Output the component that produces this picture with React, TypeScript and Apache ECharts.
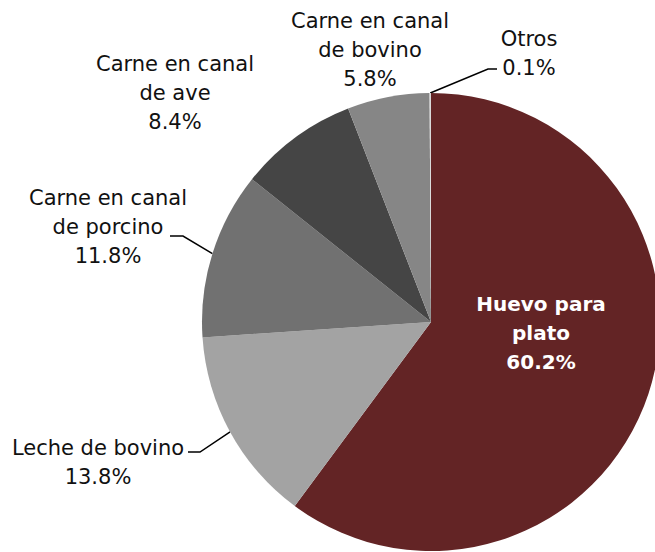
import React, { useEffect, useRef } from "react";
import * as echarts from "echarts";

const categories = [
  "Huevo para\nplato",
  "Leche de bovino",
  "Carne en canal\nde porcino",
  "Carne en canal\nde ave",
  "Carne en canal\nde bovino",
  "Otros",
];
const values = [60.2, 13.8, 11.8, 8.4, 5.8, 0.1];
const colors = ["#632425", "#a3a3a3", "#717171", "#454545", "#868686", "#d9d9d9"];

// label placement (center x, center y) and optional leader elbow/end points
const labelPos: Array<{ x: number; y: number; line?: number[][] }> = [
  { x: 541, y: 333 },
  { x: 98, y: 462, line: [[200, 452], [188, 452]] },
  { x: 108, y: 227, line: [[183, 236], [170, 236]] },
  { x: 175, y: 93 },
  { x: 370, y: 50 },
  { x: 529, y: 53, line: [[488, 69], [497, 69]] },
];

export default function App() {
  const ref = useRef<HTMLDivElement>(null);
  useEffect(() => {
    if (!ref.current) return;
    const chart = echarts.init(ref.current, undefined, { renderer: "svg" });
    const font = "DejaVu Sans";
    chart.setOption({
      animation: false,
      backgroundColor: "#ffffff",
      series: [
        {
          type: "pie",
          center: [431, 322],
          radius: 229,
          startAngle: 90,
          clockwise: true,
          avoidLabelOverlap: false,
          itemStyle: { borderWidth: 0 },
          label: {
            show: true,
            position: "outside",
            formatter: (p: any) => `${p.name}\n${values[p.dataIndex].toFixed(1)}%`,
            fontFamily: font,
            fontSize: 21,
            lineHeight: 29,
            color: "#111111",
            align: "center",
          },
          labelLine: {
            show: true,
            lineStyle: { color: "#000000", width: 1.5 },
            length: 10,
            length2: 10,
          },
          labelLayout: (p: any) => {
            const lp = labelPos[p.dataIndex];
            const res: any = { x: lp.x, y: lp.y, align: "center", verticalAlign: "middle" };
            if (lp.line && p.labelLinePoints) {
              res.labelLinePoints = [p.labelLinePoints[0], lp.line[0], lp.line[1]];
            }
            return res;
          },
          data: categories.map((c, i) => {
            const d: any = { name: c, value: values[i], itemStyle: { color: colors[i] } };
            if (i === 0) {
              d.label = {
                position: "inside",
                color: "#ffffff",
                fontWeight: "bold",
                fontSize: 20,
                lineHeight: 29,
              };
              d.labelLine = { show: false };
            } else if (!labelPos[i].line) {
              d.labelLine = { show: false };
            }
            return d;
          }),
        },
      ],
    });
    return () => chart.dispose();
  }, []);
  return (
    <div
      ref={ref}
      style={{ position: "fixed", left: 0, top: 0, width: 655, height: 552 }}
    />
  );
}
